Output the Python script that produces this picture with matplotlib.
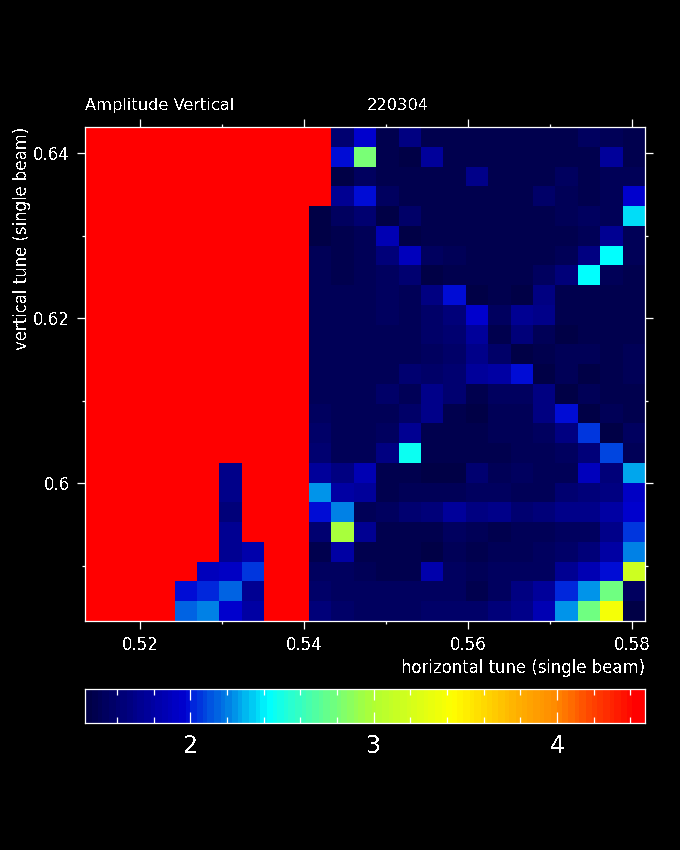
#!/usr/bin/env python3
"""Amplitude vs horizontal / vertical tune scan, heat map on black."""

import matplotlib
matplotlib.use("Agg")
import matplotlib.pyplot as plt
import numpy as np
from matplotlib.colors import LinearSegmentedColormap
from matplotlib.ticker import FixedLocator

R = 4.48  # saturated cells

# one list per vertical tune step, top row first, 25 horizontal tune steps
row_00 = [R, R, R, R, R, R, R, R, R, R, R, 1.60, 1.95, 1.48, 1.65, 1.46, 1.46, 1.46, 1.46, 1.47, 1.46, 1.46, 1.53, 1.50, 1.47]
row_01 = [R, R, R, R, R, R, R, R, R, R, R, 1.98, 2.80, 1.47, 1.45, 1.75, 1.46, 1.46, 1.46, 1.46, 1.46, 1.46, 1.48, 1.75, 1.47]
row_02 = [R, R, R, R, R, R, R, R, R, R, R, 1.45, 1.53, 1.48, 1.46, 1.48, 1.47, 1.70, 1.47, 1.47, 1.47, 1.54, 1.47, 1.50, 1.49]
row_03 = [R, R, R, R, R, R, R, R, R, R, R, 1.72, 1.98, 1.55, 1.46, 1.47, 1.47, 1.47, 1.47, 1.47, 1.56, 1.49, 1.47, 1.49, 1.95]
row_04 = [R, R, R, R, R, R, R, R, R, R, 1.44, 1.55, 1.60, 1.44, 1.56, 1.47, 1.47, 1.47, 1.47, 1.47, 1.47, 1.52, 1.53, 1.50, 2.37]
row_05 = [R, R, R, R, R, R, R, R, R, R, 1.45, 1.46, 1.51, 1.85, 1.45, 1.46, 1.46, 1.46, 1.46, 1.46, 1.46, 1.46, 1.51, 1.72, 1.50]
row_06 = [R, R, R, R, R, R, R, R, R, R, 1.49, 1.46, 1.50, 1.62, 1.88, 1.55, 1.50, 1.46, 1.47, 1.47, 1.46, 1.50, 1.65, 2.43, 1.52]
row_07 = [R, R, R, R, R, R, R, R, R, R, 1.49, 1.47, 1.50, 1.54, 1.60, 1.45, 1.47, 1.46, 1.47, 1.48, 1.55, 1.62, 2.43, 1.50, 1.46]
row_08 = [R, R, R, R, R, R, R, R, R, R, 1.51, 1.50, 1.52, 1.54, 1.52, 1.65, 1.97, 1.44, 1.47, 1.43, 1.67, 1.46, 1.47, 1.47, 1.47]
row_09 = [R, R, R, R, R, R, R, R, R, R, 1.52, 1.51, 1.49, 1.53, 1.52, 1.57, 1.63, 1.95, 1.54, 1.72, 1.68, 1.46, 1.47, 1.47, 1.47]
row_10 = [R, R, R, R, R, R, R, R, R, R, 1.52, 1.52, 1.52, 1.52, 1.52, 1.56, 1.60, 1.75, 1.47, 1.62, 1.52, 1.45, 1.47, 1.47, 1.48]
row_11 = [R, R, R, R, R, R, R, R, R, R, 1.52, 1.50, 1.50, 1.50, 1.52, 1.54, 1.56, 1.70, 1.56, 1.42, 1.48, 1.50, 1.50, 1.47, 1.51]
row_12 = [R, R, R, R, R, R, R, R, R, R, 1.52, 1.50, 1.50, 1.52, 1.60, 1.58, 1.60, 1.75, 1.80, 1.97, 1.42, 1.50, 1.45, 1.47, 1.52]
row_13 = [R, R, R, R, R, R, R, R, R, R, 1.52, 1.50, 1.49, 1.57, 1.51, 1.68, 1.60, 1.46, 1.53, 1.55, 1.67, 1.44, 1.50, 1.48, 1.46]
row_14 = [R, R, R, R, R, R, R, R, R, R, 1.53, 1.49, 1.49, 1.52, 1.56, 1.68, 1.48, 1.44, 1.50, 1.50, 1.67, 1.98, 1.43, 1.50, 1.48]
row_15 = [R, R, R, R, R, R, R, R, R, R, 1.56, 1.50, 1.50, 1.55, 1.72, 1.48, 1.47, 1.48, 1.49, 1.49, 1.53, 1.66, 2.03, 1.42, 1.55]
row_16 = [R, R, R, R, R, R, R, R, R, R, 1.60, 1.50, 1.50, 1.65, 2.45, 1.48, 1.47, 1.48, 1.48, 1.49, 1.49, 1.53, 1.64, 2.07, 1.52]
row_17 = [R, R, R, R, R, R, 1.68, R, R, R, 1.77, 1.65, 1.85, 1.48, 1.46, 1.45, 1.45, 1.60, 1.50, 1.53, 1.52, 1.52, 1.88, 1.62, 2.26]
row_18 = [R, R, R, R, R, R, 1.68, R, R, R, 2.25, 1.80, 1.75, 1.47, 1.50, 1.50, 1.50, 1.55, 1.55, 1.52, 1.52, 1.60, 1.62, 1.65, 1.92]
row_19 = [R, R, R, R, R, R, 1.62, R, R, R, 1.98, 2.22, 1.50, 1.55, 1.60, 1.62, 1.75, 1.65, 1.70, 1.60, 1.62, 1.70, 1.70, 1.78, 1.95]
row_20 = [R, R, R, R, R, R, 1.72, R, R, R, 1.60, 2.96, 1.72, 1.48, 1.47, 1.47, 1.55, 1.50, 1.47, 1.50, 1.52, 1.53, 1.55, 1.70, 2.05]
row_21 = [R, R, R, R, R, R, 1.72, 1.82, R, R, 1.48, 1.80, 1.47, 1.47, 1.47, 1.45, 1.52, 1.48, 1.50, 1.50, 1.53, 1.58, 1.62, 1.80, 2.22]
row_22 = [R, R, R, R, R, 1.88, 1.92, 2.05, R, R, 1.55, 1.55, 1.50, 1.48, 1.47, 1.82, 1.53, 1.50, 1.53, 1.55, 1.55, 1.72, 1.85, 1.98, 3.15]
row_23 = [R, R, R, R, 1.98, 2.00, 2.15, 1.72, R, R, 1.58, 1.55, 1.55, 1.55, 1.53, 1.53, 1.53, 1.48, 1.55, 1.65, 1.75, 2.00, 2.24, 2.78, 1.55]
row_24 = [R, R, R, R, 2.15, 2.20, 1.95, 1.80, R, R, 1.62, 1.58, 1.55, 1.55, 1.55, 1.56, 1.58, 1.58, 1.62, 1.68, 1.85, 2.24, 2.78, 3.37, 1.42]

rows = [row_00, row_01, row_02, row_03, row_04, row_05, row_06, row_07, row_08,
        row_09, row_10, row_11, row_12, row_13, row_14, row_15, row_16, row_17,
        row_18, row_19, row_20, row_21, row_22, row_23, row_24]

x_major = [0.52, 0.54, 0.56, 0.58]
x_minor = [0.53, 0.55, 0.57]
y_major = [0.60, 0.62, 0.64]
y_minor = [0.59, 0.61, 0.63]
bar_major = [2, 3, 4]
bar_minor = [1.6, 1.8, 2.2, 2.4, 2.6, 2.8, 3.2, 3.4, 3.6, 3.8, 4.2, 4.4]

X_LIM = (0.51326, 0.58155)
Y_LIM = (0.58330, 0.64319)
V_LIM = (1.425, 4.48)

W, H = 680, 850


def px_axes(fig, left, top, right, bottom):
    """Axes placed by pixel box, y measured from the top of the picture."""
    return fig.add_axes([left / W, 1 - bottom / H, (right - left) / W, (bottom - top) / H])


def style_axes(ax):
    ax.set_facecolor("black")
    for spine in ax.spines.values():
        spine.set_color("white")
        spine.set_linewidth(0.9)


def main():
    plt.rcParams["font.family"] = ["DejaVu Sans"]
    plt.rcParams["text.antialiased"] = False

    cmap = LinearSegmentedColormap.from_list(
        "tune",
        [(0.0, (0, 0, 70 / 255)),
         (0.175, (0, 0, 210 / 255)),
         (0.187, (0, 35 / 255, 220 / 255)),
         (0.253, (0, 130 / 255, 230 / 255)),
         (0.325, (0, 1, 1)),
         (0.46, (0.5, 1, 0.43)),
         (0.514, (0.69, 1, 0.2)),
         (0.66, (1, 1, 0)),
         (0.777, (1, 0.69, 0)),
         (0.843, (1, 0.55, 0)),
         (0.909, (1, 0.27, 0)),
         (0.99, (1, 0, 0)),
         (1.0, (1, 0, 0))],
        N=96,
    )

    fig = plt.figure(figsize=(W / 100, H / 100), dpi=100, facecolor="black")

    ax = px_axes(fig, 85, 127, 645, 621)
    style_axes(ax)
    values = np.array(rows)
    x_edges = np.linspace(X_LIM[0], X_LIM[1], values.shape[1] + 1)
    y_edges = np.linspace(Y_LIM[1], Y_LIM[0], values.shape[0] + 1)
    ax.pcolormesh(x_edges, y_edges, values, cmap=cmap, vmin=V_LIM[0], vmax=V_LIM[1])
    ax.set_xlim(*X_LIM)
    ax.set_ylim(*Y_LIM)
    ax.xaxis.set_major_locator(FixedLocator(x_major))
    ax.xaxis.set_minor_locator(FixedLocator(x_minor))
    ax.yaxis.set_major_locator(FixedLocator(y_major))
    ax.yaxis.set_minor_locator(FixedLocator(y_minor))
    ax.set_xticklabels(["0.52", "0.54", "0.56", "0.58"])
    ax.set_yticklabels(["0.6", "0.62", "0.64"])
    ax.tick_params(which="major", direction="out", length=5.8, width=0.9, color="white",
                   top=True, right=True, labelcolor="white", labelsize=12, pad=5)
    ax.tick_params(which="minor", direction="out", length=2.4, width=0.9, color="white",
                   top=True, right=True)

    fig.text(85 / W, 1 - 110 / H, "Amplitude Vertical", color="white", fontsize=11.7, va="baseline")
    fig.text(367 / W, 1 - 110 / H, "220304", color="white", fontsize=11.7, va="baseline")
    fig.text(645 / W, 1 - 668 / H, "horizontal tune (single beam)", color="white", fontsize=11.9,
             ha="right", va="center")
    fig.text(22 / W, 1 - 127 / H, "vertical tune (single beam)", color="white", fontsize=11.9,
             rotation=90, ha="center", va="top")

    bar = px_axes(fig, 85, 689, 645, 723)
    style_axes(bar)
    gradient = np.linspace(V_LIM[0], V_LIM[1], 256).reshape(1, -1)
    bar.imshow(gradient, aspect="auto", cmap=cmap, vmin=V_LIM[0], vmax=V_LIM[1],
               extent=(V_LIM[0], V_LIM[1], 0, 1), interpolation="nearest")
    bar.set_yticks([])
    bar.xaxis.set_major_locator(FixedLocator(bar_major))
    bar.xaxis.set_minor_locator(FixedLocator(bar_minor))
    bar.tick_params(which="major", direction="in", length=8, width=0.9, color="white",
                    top=True, labelcolor="white", labelsize=17, pad=8)
    bar.tick_params(which="minor", direction="in", length=4.3, width=0.9, color="white", top=True)

    fig.savefig("out.png", dpi=100, facecolor="black")


if __name__ == "__main__":
    main()
